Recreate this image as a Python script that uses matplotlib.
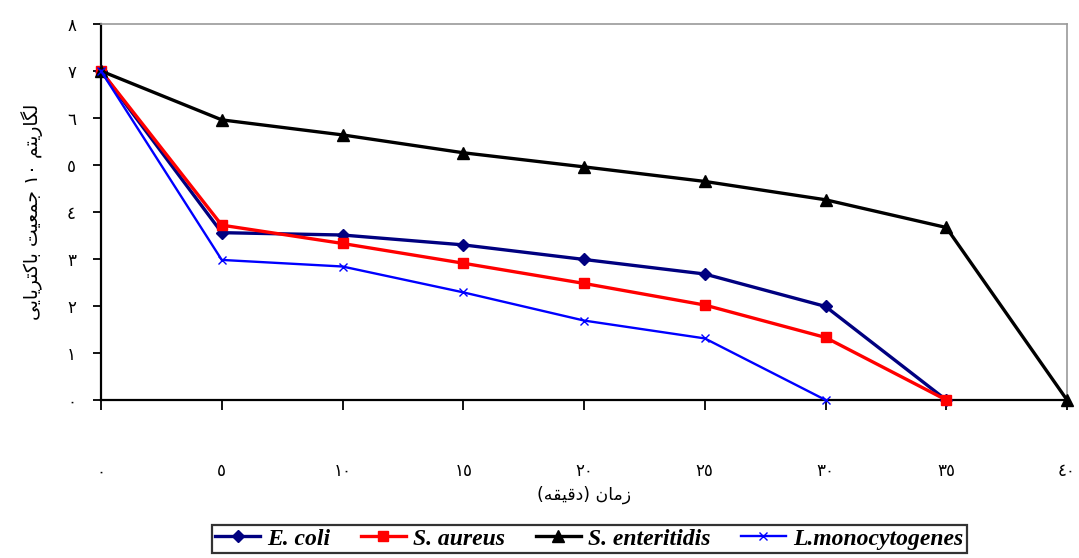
'''
Survival curves (log10 bacterial count vs time) for four bacteria,
Persian labels drawn with pre-shaped Arabic presentation forms
'''

import matplotlib
matplotlib.use('Agg')
import matplotlib.pyplot as plt


# ========================================================================
# data
# ========================================================================
time_min = [0, 5, 10, 15, 20, 25, 30, 35, 40]

ecoli = [7.0, 3.56, 3.51, 3.30, 2.99, 2.68, 1.99, 0.0]
saureus = [7.0, 3.72, 3.33, 2.91, 2.48, 2.02, 1.33, 0.0]
senteritidis = [7.0, 5.96, 5.64, 5.26, 4.96, 4.65, 4.26, 3.67, 0.0]
lmono = [7.0, 2.98, 2.84, 2.29, 1.69, 1.31, 0.0]

series_names = ['E. coli', 'S. aureus', 'S. enteritidis', 'L.monocytogenes']

# Arabic-Indic digits for tick labels
x_ticklabels = ['٠', '٥', '١٠', '١٥', '٢٠', '٢٥', '٣٠', '٣٥', '٤٠']
y_ticklabels = ['٠', '١', '٢', '٣', '٤', '٥', '٦', '٧', '٨']

# Persian labels, already shaped and in visual (left to right) order
# x: "زمان (دقیقه)"
xlabel_text = ('(' + '\uFEEA\uFED8\uFBFF\uFED7\uFEA9' + ')' + ' '
               + '\uFEE5\uFE8E\uFEE3\uFEAF')
# y: "لگاریتم ۱۰ جمعیت باکتریایی"
ylabel_text = ('\uFBFD\uFBFE\uFE8E\uFBFE\uFEAE\uFE98\uFB90\uFE8E\uFE91' + ' '
               + '\uFE96\uFBFF\uFECC\uFEE4\uFE9F' + ' '
               + '\u06F1\u06F0' + ' '
               + '\uFEE2\uFE98\uFBFE\uFEAD\uFE8E\uFB95\uFEDF')

# ========================================================================
# plot
# ========================================================================
fig = plt.figure(figsize=(10.79, 5.58), dpi=100)
ax = fig.add_axes([0.0936, 0.2832, 0.8953, 0.6738])

def profile_plot(y, color_choice, label_string, marker, msize, lw):
    ax.plot(time_min[:len(y)], y, marker=marker, label=label_string,
            color=color_choice, markersize=msize, linewidth=lw,
            markerfacecolor=color_choice, markeredgecolor=color_choice,
            clip_on=False, zorder=3)

profile_plot(ecoli, '#000080', series_names[0], 'D', 6.5, 2.4)
profile_plot(saureus, '#FF0000', series_names[1], 's', 7.5, 2.4)
profile_plot(senteritidis, '#000000', series_names[2], '^', 8, 2.4)
profile_plot(lmono, '#0000FF', series_names[3], 'x', 6, 1.7)

ax.set_xlim(0, 40)
ax.set_ylim(0, 8)
ax.set_xticks(time_min)
ax.set_xticklabels(x_ticklabels)
ax.set_yticks(range(9))
ax.set_yticklabels(y_ticklabels)

# spines: black left/bottom, grey top/right
for side in ['top', 'right']:
    ax.spines[side].set_color('#9a9a9a')
    ax.spines[side].set_linewidth(1.2)
for side in ['left', 'bottom']:
    ax.spines[side].set_color('black')
    ax.spines[side].set_linewidth(1.6)

ax.tick_params(axis='x', direction='out', length=7, width=1.3,
               pad=38, labelsize=12)
ax.tick_params(axis='y', direction='out', length=6, width=1.3,
               pad=12, labelsize=12)
for lbl in ax.get_xticklabels() + ax.get_yticklabels():
    lbl.set_fontfamily('DejaVu Sans')

ax.set_xlabel(xlabel_text, fontsize=12.5, fontfamily='DejaVu Sans', labelpad=4)
ax.set_ylabel(ylabel_text, fontsize=13.5, fontfamily='DejaVu Sans', labelpad=17)

# legend
leg = fig.legend(loc='lower center', bbox_to_anchor=(0.546, 0.0), ncol=4,
                 frameon=True, fancybox=False, edgecolor='black',
                 handlelength=1.9, handletextpad=0.3, columnspacing=1.3,
                 borderpad=0.15, borderaxespad=0.2,
                 prop={'family': 'Liberation Serif', 'style': 'italic',
                       'weight': 'bold', 'size': 17})
leg.get_frame().set_linewidth(1.6)

plt.savefig('out.png', dpi=100)
